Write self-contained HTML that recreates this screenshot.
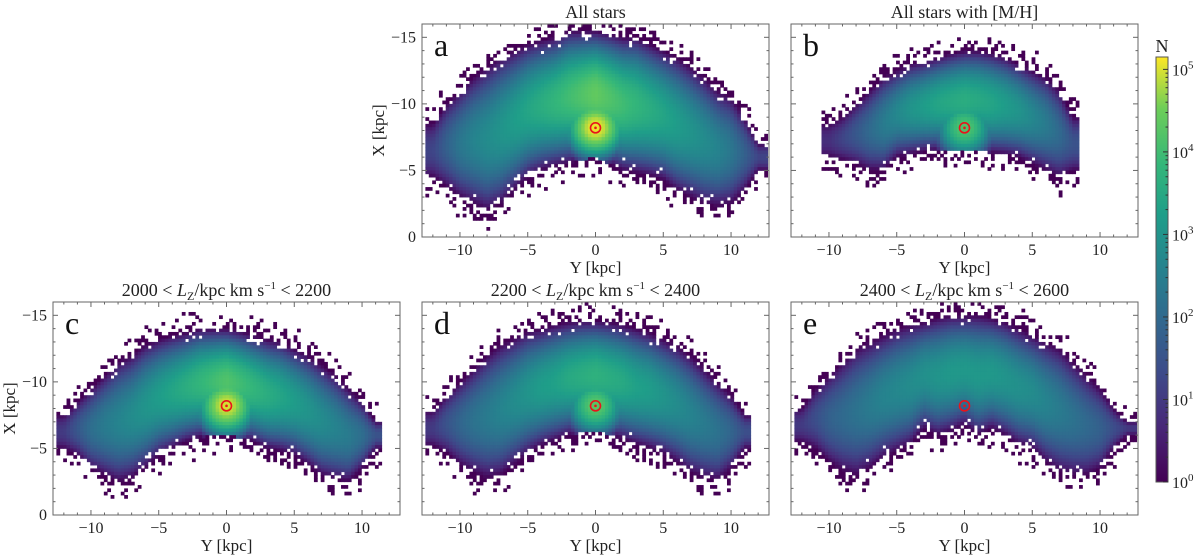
<!DOCTYPE html>
<html><head><meta charset="utf-8"><style>
html,body{margin:0;padding:0;background:#fff;}
svg{display:block;font-family:"Liberation Serif",serif;}
</style></head><body>
<svg id="fig" width="1200" height="557" viewBox="0 0 1200 557" xmlns="http://www.w3.org/2000/svg">
<defs>
<linearGradient id="vir" x1="0" y1="1" x2="0" y2="0">
<stop offset="0" stop-color="#440154"/><stop offset="0.13" stop-color="#482878"/><stop offset="0.25" stop-color="#3e4989"/><stop offset="0.38" stop-color="#31688e"/><stop offset="0.5" stop-color="#26828e"/><stop offset="0.63" stop-color="#1f9e89"/><stop offset="0.75" stop-color="#35b779"/><stop offset="0.88" stop-color="#6ece58"/><stop offset="1" stop-color="#fde725"/>
</linearGradient>
</defs>
</svg>
<script>
// column centres in Y [kpc]
const yCols = [-12,-11,-10,-9,-8,-7,-6,-5,-4,-3,-2,-1,0,1,2,3,4,5,6,7,8,9,10,11,12];
// panel a
const aOuter = [-8.5,-10,-11,-12,-12.8,-13.5,-14,-14.5,-14.8,-15,-15.5,-15.5,-15.5,-15.3,-15,-15,-14.5,-14,-13.5,-12.8,-12,-11,-10.5,-9,-7];
const aInner = [-4.5,-3.8,-3,-2.5,-2,-2.5,-3.5,-4.5,-5,-5.3,-5.5,-5.8,-6,-5.5,-5,-4.8,-4.6,-4.3,-3.5,-3,-2.5,-2.3,-2.5,-3.5,-5];
const aPeak = [1.2,1.8,2.3,2.6,2.8,3.0,3.2,3.4,3.6,3.8,4.0,4.2,4.4,4.2,4.0,3.8,3.6,3.4,3.2,3.0,2.8,2.6,2.3,1.8,1.2];
const aHot = 5.1;
// panel b
const bOuter = [null,null,-8.5,-9,-10,-11,-12,-12.5,-13,-13.2,-13.5,-13.8,-14,-14,-13.8,-13.5,-13,-12.5,-12,-11,-9,null,null,null,null];
const bInner = [null,null,-6,-5.8,-5.5,-5,-5,-6,-6.2,-6.4,-6.5,-6.5,-6.5,-6.5,-6.3,-6.2,-6,-5.5,-5,-4.5,-5,null,null,null,null];
const bPeak = [null,null,0.8,1.2,1.6,2.0,2.4,2.7,3.0,3.2,3.4,3.5,3.6,3.5,3.4,3.2,3.0,2.7,2.4,2.0,1.5,null,null,null,null];
const bHot = 4.2;
// panel c
const cOuter = [-7.5,-8.5,-9.5,-10.5,-11.5,-12,-12.8,-13.2,-13.5,-13.7,-14,-14,-14,-13.8,-13.5,-13.2,-13,-12.5,-12,-11.3,-10.5,-9.5,-8.5,-7,null];
const cInner = [-5,-4.5,-3.5,-3,-2.5,-2.8,-3.5,-4.5,-5,-5.5,-5.8,-6,-6,-5.8,-5.5,-5,-4.8,-4.5,-3.8,-3,-2.7,-2.5,-3.5,-5,null];
const cPeak = [1.0,1.6,2.1,2.4,2.6,2.8,3.0,3.2,3.4,3.6,3.8,4.0,4.2,4.0,3.8,3.6,3.4,3.2,3.0,2.8,2.6,2.4,2.1,1.5,null];
const cHot = 5.0;
// panel d
const dOuter = [-7.8,-9,-10,-11,-12,-12.8,-13.3,-13.8,-14,-14.3,-14.5,-14.6,-14.6,-14.5,-14.3,-14,-13.7,-13.2,-12.7,-12,-11,-10,-9,-7.5,null];
const dInner = [-5.2,-4.7,-3.8,-3.2,-2.8,-3,-3.8,-4.6,-5.2,-5.6,-6,-6.2,-6.4,-6,-5.7,-5.3,-5,-4.6,-4,-3.2,-2.8,-2.6,-3.5,-5,null];
const dPeak = [1.0,1.5,1.9,2.2,2.4,2.6,2.8,3.0,3.2,3.3,3.5,3.6,3.7,3.6,3.5,3.3,3.2,3.0,2.8,2.6,2.4,2.2,1.9,1.4,null];
const dHot = 4.3;
// panel e
const eOuter = [-8,-9.5,-10.5,-11.5,-12.5,-13,-13.5,-14,-14.3,-14.5,-14.8,-15,-15,-15,-14.8,-14.5,-14,-13.5,-13,-12.5,-11.5,-10.5,-9.5,-8,-7];
const eInner = [-5.5,-5,-4,-3.3,-3,-3.5,-4.3,-4.8,-5.3,-6.5,-6,-6.3,-6.8,-6,-6.5,-6,-5.3,-5,-4,-3.3,-3,-3,-3.5,-5,-6];
const ePeak = [1.0,1.4,1.8,2.0,2.2,2.4,2.6,2.7,2.8,2.9,3.0,3.1,3.1,3.1,3.1,3.0,2.9,2.8,2.6,2.4,2.2,2.0,1.8,1.4,1.0];
const eHot = 0;
// axis ticks
const yMajor = [-10,-5,0,5,10];
const xMajor = [-15,-10,-5,0];
const cbTicks = [0,1,2,3,4,5];

const svg = document.getElementById('fig');
const NS = 'http://www.w3.org/2000/svg';
function mk(tag, attrs, parent){const e=document.createElementNS(NS,tag);for(const k in attrs)e.setAttribute(k,attrs[k]);(parent||svg).appendChild(e);return e;}
const VMAX = 5.15;
const vstops = [[0,[68,1,84]],[0.13,[72,40,120]],[0.25,[62,73,137]],[0.38,[49,104,142]],[0.5,[38,130,142]],[0.63,[31,158,137]],[0.75,[53,183,121]],[0.88,[110,206,88]],[1,[253,231,37]]];
function viridis(t){t=Math.max(0,Math.min(1,t));for(let i=1;i<vstops.length;i++){if(t<=vstops[i][0]){const a=vstops[i-1],b=vstops[i];const f=(t-a[0])/(b[0]-a[0]);const c=a[1].map((v,k)=>Math.round(v+(b[1][k]-v)*f));return 'rgb('+c.join(',')+')';}}return 'rgb(253,231,37)';}
function interp(arr, y){
  const p = y + 12; const i = Math.floor(p); const f = p - i;
  const a = arr[Math.max(0,Math.min(24,i))], b = arr[Math.max(0,Math.min(24,i+1))];
  if (y < -12.6 || y > 12.6) return null;
  if (a==null && b==null) return null;
  if (a==null) return f>0.5?b:null;
  if (b==null) return f<0.5?a:null;
  return a+(b-a)*f;
}
function hash(a,b){let h=Math.sin(a*127.1+b*311.7)*43758.5453;return h-Math.floor(h);}
function panel(cfg){
  const L=cfg.left, T=cfg.top, W=347, H=213;
  const sx = y => L + (y + 12.8) / 25.6 * W;
  const sy = x => T + (x + 16) / 16 * H;
  const g = mk('g', {});
  
  
  const hm = mk('g', {}, g);
  
  
  const step = 0.25;
  const cw = (step/25.6*W+0.4).toFixed(2), ch = (step/16*H+0.4).toFixed(2);
  for (let y = -12.8; y < 12.8; y += step) {
    const yc = y + step/2;
    const top = interp(cfg.outer, yc), bot = interp(cfg.inner, yc), pk = interp(cfg.peak, yc);
    if (top==null || bot==null || pk==null) continue;
    const mid = (top + bot) / 2, half = (bot - top) / 2;
    for (let x = -16; x < 0; x += step) {
      const xc = x + step/2;
      const t = (xc - mid) / half;
      let hotv = -1;
      if (cfg.hot > 0) { const r2 = yc*yc + (xc+8.2)*(xc+8.2); hotv = cfg.hot - 0.55*r2; }
      let fill;
      if (Math.abs(t) > 1) {
        const d = (Math.abs(xc - mid) - half);
        if (d > 1.6) continue;
        if (hash(yc, xc) > 0.45 * (1 - d/1.6)) continue;
        fill = viridis(0);
      } else {
        let v = Math.max(0.15, pk * Math.pow(1 - t*t, 0.9));
        const hotDominant = hotv > v;
        v = Math.max(v, hotv);
        if (!hotDominant && Math.abs(t) > 0.8 && hash(xc, yc) < (Math.abs(t)-0.8)*1.5) continue;
        fill = viridis(v/VMAX);
      }
      const c = mk('rect', {x: sx(y).toFixed(2), y: sy(x).toFixed(2), width: cw, height: ch, fill: fill}, hm);
      
      
    }
  }
  const sun = mk('circle', {cx: sx(0), cy: sy(-8.2), r: 5, fill: 'none', stroke: '#e8141c', 'stroke-width': 1.6}, g);
  
  
  mk('circle', {cx: sx(0), cy: sy(-8.2), r: 1.3, fill: '#e8141c'}, g);
  const fr = mk('rect', {x: L, y: T, width: W, height: H, fill: 'none', stroke: '#666', 'stroke-width': 1}, g);
  
  
  for (let y = -12; y <= 12; y++) {
    const major = yMajor.includes(y); const len = major ? 5 : 2.5;
    mk('line', {x1: sx(y), x2: sx(y), y1: T+H, y2: T+H-len, stroke: '#666'}, g);
    mk('line', {x1: sx(y), x2: sx(y), y1: T, y2: T+len, stroke: '#666'}, g);
  }
  for (let x = -16; x <= 0; x++) {
    const major = xMajor.includes(x); const len = major ? 5 : 2.5;
    mk('line', {x1: L, x2: L+len, y1: sy(x), y2: sy(x), stroke: '#666'}, g);
    mk('line', {x1: L+W, x2: L+W-len, y1: sy(x), y2: sy(x), stroke: '#666'}, g);
  }
  yMajor.forEach(y => {
    const t = mk('text', {x: sx(y), y: T+H+18, 'font-size': 16, 'text-anchor': 'middle', fill: '#222'}, g);
    t.textContent = (y<0?'\u2212':'') + Math.abs(y);
    
    
  });
  const xt = mk('text', {x: L+W/2, y: T+H+36, 'font-size': 17, 'text-anchor': 'middle', fill: '#222'}, g);
  xt.textContent = 'Y [kpc]';
  
  
  if (cfg.ylabels) {
    xMajor.forEach(x => {
      const t = mk('text', {x: L-6, y: sy(x)+5, 'font-size': 16, 'text-anchor': 'end', fill: '#222'}, g);
      t.textContent = (x<0?'\u2212':'') + Math.abs(x);
      
      
    });
    const yt = mk('text', {x: 0, y: 0, 'font-size': 17, 'text-anchor': 'middle', fill: '#222', transform: 'translate(' + (L-38) + ',' + (T+H/2) + ') rotate(-90)'}, g);
    yt.textContent = 'X [kpc]';
    
    
  }
  const lt = mk('text', {x: L+12, y: T+32, 'font-size': 32, fill: '#111'}, g);
  lt.textContent = cfg.letter;
  
  
  const tt = mk('text', {x: L+W/2, y: T-6, 'font-size': 18, 'text-anchor': 'middle', fill: '#222'}, g);
  
  
  if (cfg.lz) {
    tt.innerHTML = cfg.lz[0] + ' &lt; <tspan font-style="italic">L</tspan><tspan font-size="12" dy="4">Z</tspan><tspan dy="-4">/kpc km s</tspan><tspan font-size="11" dy="-7">\u22121</tspan><tspan dy="7"> &lt; ' + cfg.lz[1] + '</tspan>';
  } else tt.textContent = cfg.title;
}
panel({name:'panel-a', left:422, top:24, outer:aOuter, inner:aInner, peak:aPeak, hot:aHot, letter:'a', title:'All stars', ylabels:true});
panel({name:'panel-b', left:791, top:24, outer:bOuter, inner:bInner, peak:bPeak, hot:bHot, letter:'b', title:'All stars with [M/H]', ylabels:false});
panel({name:'panel-c', left:53, top:302, outer:cOuter, inner:cInner, peak:cPeak, hot:cHot, letter:'c', lz:[2000,2200], ylabels:true});
panel({name:'panel-d', left:422, top:302, outer:dOuter, inner:dInner, peak:dPeak, hot:dHot, letter:'d', lz:[2200,2400], ylabels:false});
panel({name:'panel-e', left:791, top:302, outer:eOuter, inner:eInner, peak:ePeak, hot:eHot, letter:'e', lz:[2400,2600], ylabels:false});

const cbT = 57, cbB = 482, cbL = 1156, cbW = 12;
const cy = v => cbB - v / VMAX * (cbB - cbT);
const cbg = mk('g', {});


mk('rect', {x: cbL, y: cbT, width: cbW, height: cbB-cbT, fill: 'url(#vir)', stroke: '#555', 'stroke-width': 1}, cbg);
cbTicks.forEach(k => {
  mk('line', {x1: cbL+cbW-5, x2: cbL+cbW, y1: cy(k), y2: cy(k), stroke: '#333'}, cbg);
  for (let m = 2; m < 10; m++) { const v = k + Math.log10(m); if (v < VMAX) mk('line', {x1: cbL+cbW-2.5, x2: cbL+cbW, y1: cy(v), y2: cy(v), stroke: '#333'}, cbg); }
  const t = mk('text', {x: cbL+cbW+4, y: cy(k)+6, 'font-size': 16, fill: '#222'}, cbg);
  t.innerHTML = '10<tspan font-size="11" dy="-7">' + k + '</tspan>';
  
  
});
const nt = mk('text', {x: cbL+cbW/2, y: cbT-5, 'font-size': 18, 'text-anchor': 'middle', fill: '#222'}, cbg);
nt.textContent = 'N';


</script>
</body></html>
